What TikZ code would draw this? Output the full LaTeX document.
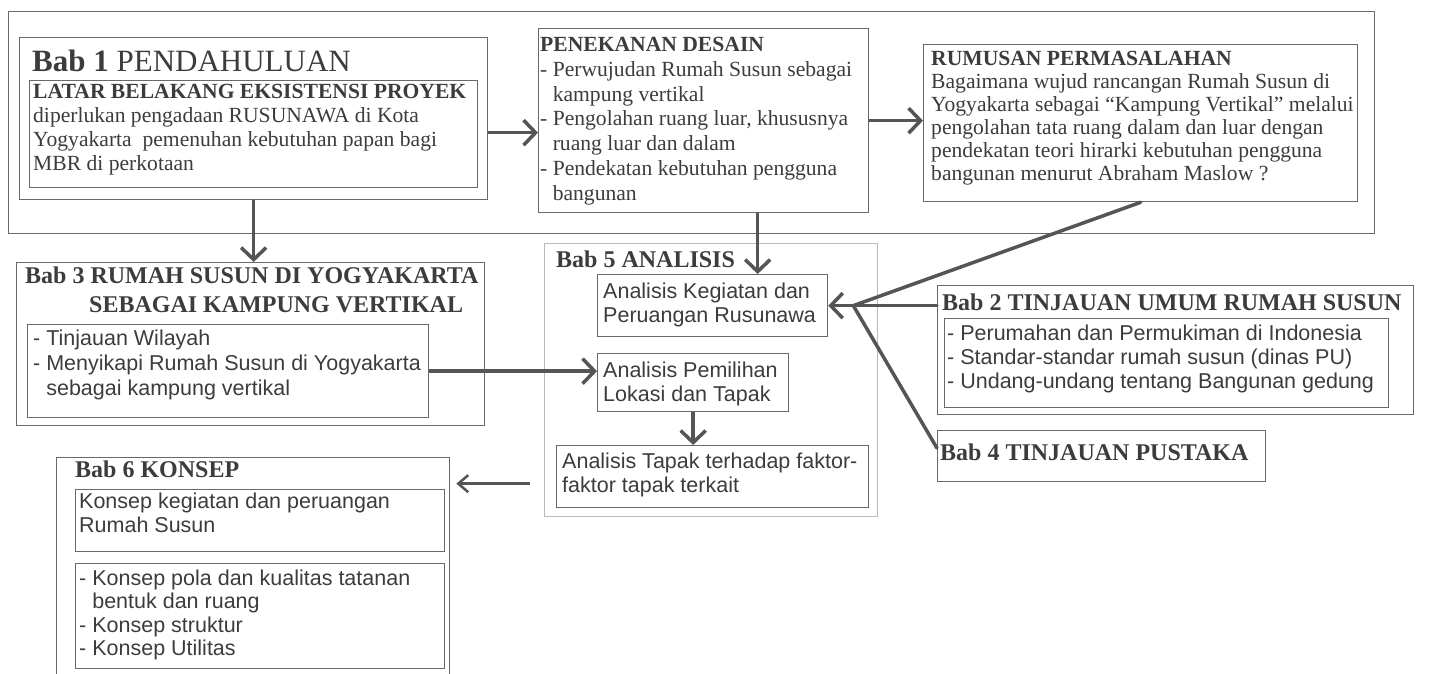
\documentclass[tikz,border=0pt]{standalone}
\usepackage{fontspec}
\setmainfont{Liberation Serif}
\setsansfont{Liberation Sans}
\usepackage{xcolor}
\usetikzlibrary{positioning, arrows.meta}

\definecolor{inkgray}{RGB}{60,60,60}
\definecolor{framegray}{RGB}{105,105,105}
\definecolor{palegray}{RGB}{185,185,185}
\definecolor{wiregray}{RGB}{85,85,85}

\newcommand{\chapfont}{\fontsize{24}{29}\selectfont\bfseries}
\newcommand{\bodyfont}{\fontsize{21.6}{24}\selectfont}
\newcommand{\plainfont}{\fontsize{21.5}{24}\selectfont\sffamily}
\newcommand{\dashpad}{\phantom{- }}

\begin{document}
\begin{tikzpicture}[x=1pt, y=-1pt,
    frame/.style={draw=framegray, line width=1.3pt, anchor=north west, inner sep=0pt},
    paleframe/.style={frame, draw=palegray},
    label/.style={anchor=base west, inner sep=0pt, align=left, text=inkgray},
    wire/.style={draw=wiregray, line width=3.5pt, line cap=round},
    flow/.style={wire, line cap=butt, -{Straight Barb[length=12pt, width=25pt, line width=3.5pt]}},
    thinflow/.style={draw=wiregray, line width=2.5pt, -{Straight Barb[length=10pt, width=17pt, line width=2.5pt]}}]

    \useasboundingbox (0,0) rectangle (1433,673);

    % labels are placed at the baseline of their last line

    % --- Top frame ---
    \node[frame, minimum width=1366pt, minimum height=222pt] (topframe) at (8,11) {};

    % --- Bab 1 ---
    \node[frame, minimum width=468pt, minimum height=162pt] (bab1) at (19,37) {};
    \node[frame, minimum width=448pt, minimum height=107pt] (bab1in) at (29,80) {};
    \node[label, font=\fontsize{31}{36}\selectfont] (bab1title) at (32,71) {\textbf{Bab 1} PENDAHULUAN};
    \node[label, font=\bodyfont] (bab1text) at (33,170)
        {\textbf{LATAR BELAKANG EKSISTENSI PROYEK}\\
         diperlukan pengadaan RUSUNAWA di Kota\\
         Yogyakarta\ \ pemenuhan kebutuhan papan bagi\\
         MBR di perkotaan};

    % --- Penekanan desain ---
    \node[frame, minimum width=330pt, minimum height=184pt] (penekanan) at (538,28) {};
    \node[label, font=\fontsize{21.6}{24.7}\selectfont] (penekanantext) at (540,200)
        {\textbf{PENEKANAN DESAIN}\\
         - Perwujudan Rumah Susun sebagai\\
         \dashpad kampung vertikal\\
         - Pengolahan ruang luar, khususnya\\
         \dashpad ruang luar dan dalam\\
         - Pendekatan kebutuhan pengguna\\
         \dashpad bangunan};

    % --- Rumusan permasalahan ---
    \node[frame, minimum width=434pt, minimum height=157pt] (rumusan) at (923,44) {};
    \node[label, font=\fontsize{21.6}{23}\selectfont] (rumusantext) at (931,180)
        {\textbf{RUMUSAN PERMASALAHAN}\\
         Bagaimana wujud rancangan Rumah Susun di\\
         Yogyakarta sebagai “Kampung Vertikal” melalui\\
         pengolahan tata ruang dalam dan luar dengan\\
         pendekatan teori hirarki kebutuhan pengguna\\
         bangunan menurut Abraham Maslow ?};

    % --- Bab 3 ---
    \node[frame, minimum width=468pt, minimum height=163pt] (bab3) at (16,262) {};
    \node[frame, minimum width=401pt, minimum height=93pt] (bab3in) at (27,324) {};
    \node[label, font=\chapfont] (bab3title) at (25,312)
        {Bab 3 RUMAH SUSUN DI YOGYAKARTA\\
         \hspace*{64pt}SEBAGAI KAMPUNG VERTIKAL};
    \node[label, font=\fontsize{21.5}{25}\selectfont\sffamily] (bab3text) at (33,395)
        {- Tinjauan Wilayah\\
         - Menyikapi Rumah Susun di Yogyakarta\\
         \dashpad sebagai kampung vertikal};

    % --- Bab 5 ---
    \node[paleframe, minimum width=333pt, minimum height=273pt] (bab5) at (544,243) {};
    \node[label, font=\chapfont] (bab5title) at (556,267) {Bab 5 ANALISIS};
    \node[frame, minimum width=230pt, minimum height=62pt] (kegiatan) at (597,274) {};
    \node[label, font=\plainfont] (kegiatantext) at (603,322)
        {Analisis Kegiatan dan\\ Peruangan Rusunawa};
    \node[frame, minimum width=191pt, minimum height=58pt] (pemilihan) at (597,353) {};
    \node[label, font=\plainfont] (pemilihantext) at (603,401)
        {Analisis Pemilihan\\ Lokasi dan Tapak};
    \node[frame, minimum width=312pt, minimum height=62pt] (tapak) at (556,445) {};
    \node[label, font=\plainfont] (tapaktext) at (562,492)
        {Analisis Tapak terhadap faktor-\\ faktor tapak terkait};

    % --- Bab 2 ---
    \node[frame, minimum width=476pt, minimum height=129pt] (bab2) at (937,285) {};
    \node[frame, minimum width=444pt, minimum height=89pt] (bab2in) at (944,318) {};
    \node[label, font=\chapfont] (bab2title) at (942,310) {Bab 2 TINJAUAN UMUM RUMAH SUSUN};
    \node[label, font=\plainfont] (bab2text) at (947,388)
        {- Perumahan dan Permukiman di Indonesia\\
         - Standar-standar rumah susun (dinas PU)\\
         - Undang-undang tentang Bangunan gedung};

    % --- Bab 4 ---
    \node[frame, minimum width=328pt, minimum height=51pt] (bab4) at (937,430) {};
    \node[label, font=\chapfont] (bab4title) at (940,460) {Bab 4 TINJAUAN PUSTAKA};

    % --- Bab 6 ---
    \node[frame, minimum width=393pt, minimum height=240pt] (bab6) at (56,457) {};
    \node[label, font=\chapfont] (bab6title) at (75,477) {Bab 6 KONSEP};
    \node[frame, minimum width=369pt, minimum height=62pt] (bab6a) at (75,489) {};
    \node[label, font=\plainfont] (bab6atext) at (79,532)
        {Konsep kegiatan dan peruangan\\ Rumah Susun};
    \node[frame, minimum width=369pt, minimum height=105pt] (bab6b) at (75,563) {};
    \node[label, font=\fontsize{21.5}{23.5}\selectfont\sffamily] (bab6btext) at (79,655.5)
        {- Konsep pola dan kualitas tatanan\\
         \dashpad bentuk dan ruang\\
         - Konsep struktur\\
         - Konsep Utilitas};

    % --- Connectors ---
    \coordinate (bab1out) at ([yshift=-14pt]bab1.east);
    \draw[flow] (bab1out) -- (bab1out -| penekanan.west);
    \draw[flow] (penekanan.east) -- (penekanan.east -| rumusan.west);
    \draw[flow] (bab1.south) -- (bab1.south |- bab3.north);
    \coordinate (penekout) at ([xshift=54pt]penekanan.south);
    \draw[flow] (penekout) -- (penekout |- kegiatan.north);
    \draw[flow] (bab3in.east) -- (bab3in.east -| pemilihan.west);
    \draw[flow] (pemilihan.south) -- (pemilihan.south |- tapak.north);
    \coordinate (tapakout) at ([yshift=-7pt]tapak.west);
    \draw[thinflow, shorten <=26pt, shorten >=6pt] (tapakout) -- (tapakout -| bab6.east);

    % hub where the three sources meet
    \coordinate (hub) at ([xshift=25pt]kegiatan.east);
    \draw[wire] (rumusan.south) -- (hub);
    \draw[wire] (hub) -- (hub -| bab2.west);
    \draw[wire] (hub) -- ([yshift=8pt]bab4.west);
    \draw[flow] (hub) -- (kegiatan.east);

\end{tikzpicture}
\end{document}
